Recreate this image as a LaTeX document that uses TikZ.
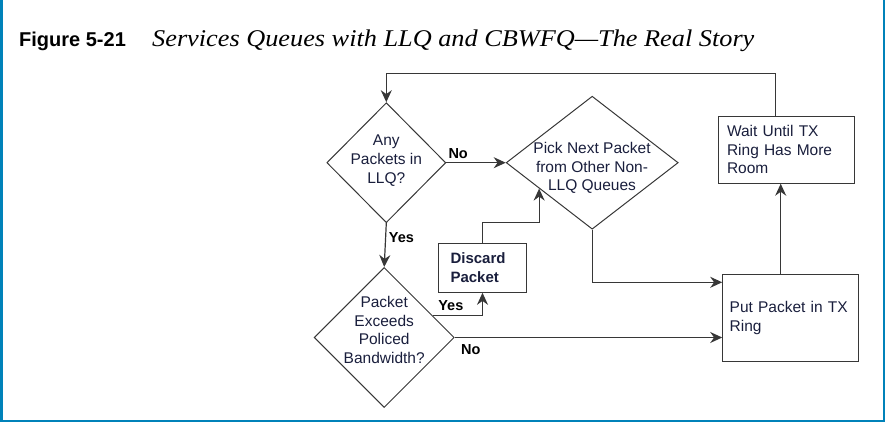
\documentclass[tikz,border=0pt]{standalone}
\usepackage{fontspec}
\setmainfont{Liberation Sans}
\newfontfamily\titlefont{Liberation Serif}
\usetikzlibrary{shapes.geometric, arrows.meta}

\definecolor{frameblue}{RGB}{0,130,185}
\definecolor{inkline}{RGB}{55,55,55}
\definecolor{inktext}{RGB}{25,30,60}

\begin{document}
\begin{tikzpicture}[x=1pt, y=-1pt,
    flow/.style={draw=inkline, line width=1.2pt, -{Stealth[length=12pt, width=11pt]}},
    decision/.style={draw=inkline, line width=1pt, diamond, inner sep=0pt},
    qtext/.style={text=inktext, font=\fontsize{15.5}{18.7}\selectfont, align=center},
    stepbox/.style={draw=inkline, line width=1pt, rectangle, text=inktext, font=\fontsize{15.5}{18.7}\selectfont, align=left},
    answer/.style={font=\bfseries\fontsize{14.5}{17}\selectfont, text=black, inner sep=0pt}]
    \useasboundingbox (0,0) rectangle (885,422);

    % Frame
    \draw[frameblue, line width=2.5pt] (1.25,0) -- (1.25,420.75) -- (883.75,420.75) -- (883.75,0);

    % Caption
    \node[anchor=base west, inner sep=0pt, font=\bfseries\fontsize{20}{24}\selectfont] (fig) at (19,46.7) {Figure 5-21};
    \node[anchor=base west, inner sep=0pt, font=\titlefont\itshape\fontsize{24}{28}\selectfont] (caption) at (152,46.7) {\scalebox{1.095}[1]{Services Queues with LLQ and CBWFQ—The Real Story}};

    % Decisions
    \node[decision, minimum width=119, minimum height=120] (anyq) at (386.3,162.7) {};
    \node[decision, minimum width=172, minimum height=133] (pick) at (592.2,162.7) {};
    \node[decision, minimum width=140, minimum height=140] (exceeds) at (384.2,337.5) {};
    \node[qtext] (anyt) at (386.3,160.5) {Any\\Packets in\\LLQ?};
    \node[qtext] (pickt) at (592,168) {Pick Next Packet\\from Other Non-\\LLQ Queues};
    \node[qtext] (exceedst) at (384.2,330) {Packet\\Exceeds\\Policed\\Bandwidth?};

    % Actions
    \node[stepbox, minimum width=136, minimum height=67, text width=118, inner xsep=9] (wait) at (786,149.7) {Wait Until TX\\Ring Has More\\Room};
    \node[stepbox, minimum width=136, minimum height=87, text width=122, inner xsep=7] (put) at (790.7,317.8) {Put Packet in TX\\Ring};
    \node[stepbox, minimum width=88, minimum height=49, text width=64, inner xsep=12, font=\bfseries\fontsize{15}{18.7}\selectfont] (discard) at (482.5,267.8) {Discard\\Packet};

    % Connectors
    \coordinate (looptop) at (580,73.3);
    \draw[flow] ([xshift=-10.3pt]wait.north) |- (looptop) -| (anyq.north);
    \draw[flow] (anyq.east) -- (pick.west) node[answer, pos=0.2, anchor=south, yshift=3.5pt] {No};
    \draw[flow] (anyq.south) -- (exceeds.north) node[answer, pos=0.335, anchor=west, xshift=2.7pt] {Yes};
    \draw[flow] (exceeds.24) -| (discard.south) node[answer, pos=0.18, anchor=south, yshift=5pt] {Yes};
    \draw[flow] (discard.north) -- ++(0,-20.3) -| (pick.206);
    \draw[flow] (pick.south) |- ([yshift=35.5pt]put.west);
    \draw[flow] (exceeds.east) -- (exceeds.east -| put.west) node[answer, pos=0.06, anchor=north, yshift=-6.3pt] {No};
    \draw[flow] ([xshift=-10pt]put.north) -- ([xshift=-10pt]put.north |- wait.south);
\end{tikzpicture}
\end{document}
